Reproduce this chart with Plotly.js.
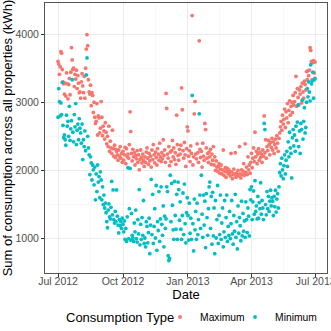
<!DOCTYPE html>
<html>
<head>
<meta charset="utf-8">
<script src="https://cdn.plot.ly/plotly-3.0.1.min.js"></script>
<style>
  html, body { margin: 0; padding: 0; background: #fff; }
  #chart { width: 331px; height: 331px; }
</style>
</head>
<body>
<div id="chart"></div>
<script>
// daily series, first value is 1 Jul 2012, one value per day up to 30 Jun 2013
var firstDay = "2012-07-01";
var seriesNames = ["Maximum", "Minimum"];
var seriesColors = ["#F8766D", "#00BFC4"];

var maximumKwh = [
  3600,3560,3410,3520,3740,3720,3480,3300,3270,3120,3280,3090,3430,3270,3050,3260,3350,3110,3440,3800,3620,3480,3500,3230,3410,3340,3470,3200,3390,3280,3140, // jul
  3150,3060,3300,3420,3240,3140,3380,3060,3500,3780,3990,3830,3330,3150,3120,3250,2950,3140,3100,2850,3000,2780,2690,2720,2980,2520,2800,2770,2550,2620,3010, // aug
  2780,2510,2650,2580,2460,2700,2560,2390,2500,2350,2650,2280,2430,2330,2250,2590,2320,2210,2370,2190,2310,2280,2230,2150,2300,2210,2350,2180,2250,2120, // sep
  2280,2150,2230,2340,2100,2320,2200,2240,2180,2380,2860,2570,2250,2140,2310,2200,2260,2080,2220,2170,2290,2120,2230,2010,2160,2300,2190,2110,2240,2150,2060, // oct
  2200,2120,2270,2330,2180,2090,2250,2140,2210,2050,2300,2160,2380,2230,2110,2270,2190,2080,2320,2240,2150,2400,2200,2130,2260,2170,2450,2220,2300,2120, // nov
  3130,2910,2240,2180,2350,2070,2270,2130,2290,2440,2200,2330,2160,2260,2090,2810,2380,2220,2150,2310,2240,2370,3210,2890,2290,2180,2410,2230,2060,2320,2640, // dec
  2580,2210,2290,2130,2360,2250,4270,2080,2200,2830,3010,2240,2170,2390,2260,2120,3900,2310,2190,2280,2050,2400,2210,2150,2690,2600,2330,2180,2250,2120,2270, // jan
  2200,2310,2090,2240,2150,2350,2080,2200,2000,2140,2050,1990,2060,2100,1960,2020,2080,1950,2010,2300,1930,1990,2040,1900,1980,2030,1950,2010, // feb
  1970,1920,2250,1980,1880,1940,2020,1950,2260,1900,1960,1930,2000,1920,2350,1950,1890,2010,1940,1990,2100,1930,2390,1970,2050,1940,2200,2010,2080,1960,2120, // mar
  2250,2040,2180,2330,2130,2560,2200,2280,2100,2240,2320,2150,2270,2190,2240,2120,2300,2210,2800,2260,2450,2180,2350,2290,2440,2380,2230,2410,2340,2470, // apr
  2300,2420,2250,2380,2460,2330,2510,2400,2280,2470,2550,2640,2720,2590,2810,2680,2750,2900,2630,2860,2770,2980,2700,2880,3020,2810,2940,3000,2850,3100,2960, // may
  3010,3140,3380,2940,3200,3070,2960,3180,3120,3230,2990,3280,3150,3060,3310,3260,3180,3450,3330,3460,3390,3470,3800,3760,3600,3330,3580,3610,3430,3590  // jun
];

var minimumKwh = [
  2780,3200,3010,2800,2990,2820,3290,2660,2480,2520,2450,2370,2810,2650,2720,2500,2940,2440,2610,2730,3330,2560,2420,2820,2640,2980,2380,2590,2680,2450,2760, // jul
  2620,2550,2400,2680,2160,2450,2350,2580,2290,3400,3650,2500,2330,2230,1940,2200,2110,1860,2080,2010,1790,2050,1570,1950,1690,2080,1830,1910,1600,1980,1860, // aug
  1570,1760,1500,1640,1450,1520,1380,1250,1160,1420,1510,1320,1290,1460,1840,1350,1715,1280,1230,1400,1250,1715,1330,1200,1085,1280,1190,1250,1150,1300, // sep
  1210,1100,1260,990,1150,960,1320,2040,1000,1440,2030,980,1370,1050,1010,960,1230,1100,1420,1000,950,1280,1070,1720,910,1210,990,1310,1050,1560,930, // oct
  1010,880,1250,1180,940,1090,1300,780,1200,1870,1060,1650,930,1180,1440,1010,1780,830,1250,1120,1690,960,1290,1760,1210,1050,1480,880,1330,1150, // nov
  1290,1760,1690,750,680,710,1930,1250,1810,1490,1130,990,1840,1340,1140,1650,990,1830,1720,1270,1540,1140,990,1340,1670,1060,1800,1220,940,1380,1600, // dec
  1340,980,1520,1080,1300,990,3100,1220,820,1580,1130,1400,990,1520,1060,1280,2830,1640,1150,1930,1360,1020,1640,1200,1550,870,1660,1310,1050,1440,1760, // jan
  1830,1150,1620,920,1680,1040,1450,780,1560,1010,1280,1780,930,1340,1060,1640,990,1230,1450,880,1100,1560,1020,1310,1640,960,1180,1050, // feb
  1400,1000,1220,1560,1070,920,1340,1110,1650,1020,1250,850,1480,1080,1310,1190,970,1550,1040,1370,1110,1260,1020,1540,1280,1090,1450,1330,1040,1720,1570, // mar
  1760,1280,1540,1700,1360,1850,1400,1480,1290,1620,1300,1530,1440,1820,1360,1560,1450,1280,2690,2600,1500,1350,1690,1440,1620,1400,1550,1710,1480,1600, // apr
  1550,1340,1620,1470,1710,1390,1580,1660,1450,1760,1970,2100,1920,2180,2010,1880,2070,2230,1950,2150,2280,2060,2420,2200,2560,2330,2250,1890,2480,2600,2360, // may
  2520,2280,2650,2440,2710,2960,2350,2580,2250,2690,2600,3030,2460,2720,2920,2550,2630,3000,3200,3080,3300,3150,3020,3550,3270,3310,3440,3060,3330,3350  // jun
];

var xTicks = ["2012-07-01", "2012-10-01", "2013-01-01", "2013-04-01", "2013-07-01"];
var xMinor = ["2012-08-16", "2012-11-16", "2013-02-15", "2013-05-16"];

function dayList(start, n) {
  var out = [];
  var t0 = Date.parse(start + "T00:00:00Z");
  for (var i = 0; i < n; i++) {
    out.push(new Date(t0 + i * 86400000).toISOString().slice(0, 10));
  }
  return out;
}

var font = "Liberation Sans, Arial, Helvetica, sans-serif";
var allSeries = [maximumKwh, minimumKwh];
var data = [];
for (var s = 0; s < allSeries.length; s++) {
  var tr = {
    x: dayList(firstDay, allSeries[s].length),
    y: allSeries[s],
    name: seriesNames[s],
    type: "scatter",
    mode: "markers",
    marker: { color: seriesColors[s], size: 3.8 },
    cliponaxis: false
  };
  // narrower first entry so the two keys sit close like the original
  if (s === 0) tr.legendwidth = 30;
  data.push(tr);
}

var layout = {
  width: 331,
  height: 331,
  margin: { l: 45, r: 4, t: 3, b: 58, autoexpand: false },
  paper_bgcolor: "#fff",
  plot_bgcolor: "#fff",
  font: { family: font, color: "#000" },
  showlegend: true,
  xaxis: {
    type: "date",
    range: ["2012-06-12 12:00", "2013-07-17"],
    tickvals: xTicks,
    tickformat: "%b %Y",
    tickfont: { size: 10.5, color: "#4D4D4D" },
    ticklabeloverflow: "allow",
    ticklabelstandoff: -5,
    ticks: "outside", ticklen: 3, tickcolor: "#333",
    showgrid: true, gridcolor: "#EBEBEB", gridwidth: 1,
    minor: { tickmode: "array", tickvals: xMinor, showgrid: true, gridcolor: "#F4F4F4", gridwidth: 0.6, ticks: "" },
    showline: true, mirror: true, linecolor: "#555", linewidth: 1,
    zeroline: false,
    automargin: false,
    title: { text: "Date", font: { size: 13, color: "#000" }, standoff: 0 }
  },
  yaxis: {
    range: [497, 4455],
    tickvals: [1000, 2000, 3000, 4000],
    tickfont: { size: 10.5, color: "#4D4D4D" },
    ticks: "outside", ticklen: 3, tickcolor: "#333",
    showgrid: true, gridcolor: "#EBEBEB", gridwidth: 1,
    minor: { tickmode: "array", tickvals: [1500, 2500, 3500], showgrid: true, gridcolor: "#F4F4F4", gridwidth: 0.6, ticks: "" },
    showline: true, mirror: true, linecolor: "#555", linewidth: 1,
    zeroline: false,
    automargin: false,
    title: { text: "Sum of consumption across all properties (kWh)", font: { size: 13, color: "#000" }, standoff: 4 }
  },
  legend: {
    orientation: "h",
    x: 0.408, xanchor: "left",
    y: -0.163, yanchor: "middle",
    font: { size: 10.3, color: "#000" },
    itemsizing: "trace"
  },
  annotations: [{
    text: "Consumption Type",
    xref: "paper", yref: "paper",
    x: 0.066, xanchor: "left",
    y: -0.163, yanchor: "middle",
    showarrow: false,
    font: { size: 13, color: "#000" }
  }]
};

Plotly.newPlot("chart", data, layout, { staticPlot: true, displayModeBar: false });
</script>
</body>
</html>
